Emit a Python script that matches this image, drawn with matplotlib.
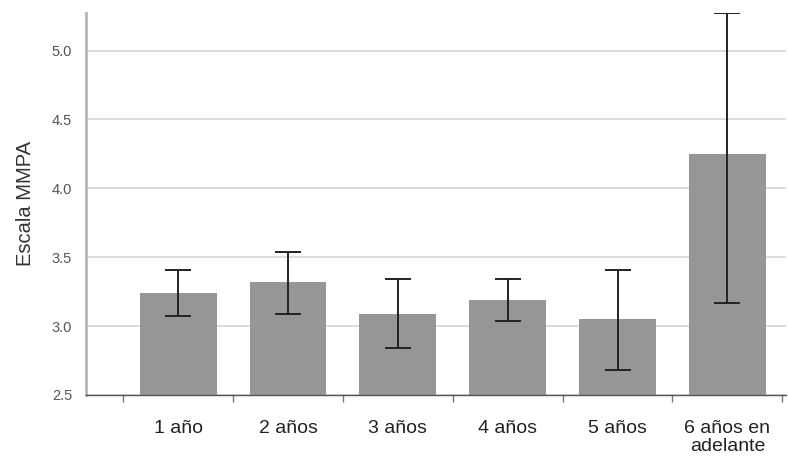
import matplotlib.pyplot as plt
import numpy as np

# Data
categories = ['1 año', '2 años', '3 años', '4 años', '5 años', '6 años en\nadelante']
means = [3.24, 3.32, 3.09, 3.19, 3.05, 4.25]
ci_low = [3.07, 3.09, 2.84, 3.04, 2.68, 3.17]
ci_high = [3.41, 3.54, 3.34, 3.34, 3.41, 5.27]
y_ticks = [2.5, 3.0, 3.5, 4.0, 4.5, 5.0]

plt.rcParams['font.family'] = ['Liberation Sans', 'DejaVu Sans']

fig = plt.figure(figsize=(7.88, 4.57), dpi=100)
ax = fig.add_axes([0.109, 0.136, 0.888, 0.836])

x = np.arange(len(categories))
means_arr = np.array(means)
yerr = [means_arr - np.array(ci_low), np.array(ci_high) - means_arr]

ax.bar(x, means_arr - 2.5, bottom=2.5, width=0.7, color='#969696', zorder=2)
ax.errorbar(x, means, yerr=yerr, fmt='none', ecolor='#222222',
            elinewidth=1.4, capsize=9.5, capthick=1.4, zorder=3)

ax.set_ylim(2.5, 5.275)
ax.set_xlim(-0.84, 5.53)
ax.set_yticks(y_ticks)
ax.set_yticklabels([f'{v:.1f}' for v in y_ticks], fontsize=10.5, color='#555555')
ax.tick_params(axis='y', length=0, pad=10)
ax.yaxis.grid(True, color='#dcdcdc', linewidth=1.4, zorder=0)
ax.set_axisbelow(True)

# labels centred under the bars, tick marks at category boundaries
ax.set_xticks(x)
ax.set_xticklabels(categories, fontsize=14, color='#222222', linespacing=1.1)
ax.tick_params(axis='x', which='major', length=0, pad=18)
ax.set_xticks(np.arange(-0.5, len(categories)), minor=True)
ax.tick_params(axis='x', which='minor', length=5, width=1, color='#777777', direction='out')

ax.set_ylabel('Escala MMPA', fontsize=14.5, color='#333333', labelpad=12)

ax.spines['top'].set_visible(False)
ax.spines['right'].set_visible(False)
ax.spines['left'].set_color('#b4b4b4')
ax.spines['left'].set_linewidth(2)
ax.spines['bottom'].set_color('#555555')
ax.spines['bottom'].set_linewidth(1)

plt.savefig('out.png', dpi=100)
